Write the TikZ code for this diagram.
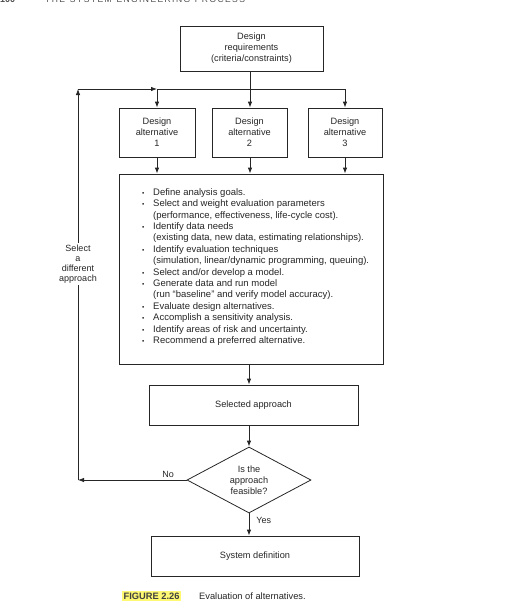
\documentclass[tikz,border=0pt]{standalone}
\usepackage{fontspec}
\setmainfont{Liberation Sans}
\usetikzlibrary{arrows.meta,shapes.geometric}
\newcommand{\mybul}{\makebox[11pt][l]{\fontsize{6.5}{6}\selectfont\textbullet}}
\newcommand{\myind}{\hspace*{11pt}}
\begin{document}
\begin{tikzpicture}[x=1pt,y=1pt,
  line/.style={draw=black!85, line width=0.8pt},
  arr/.style={line, -{Latex[length=6pt,width=4.5pt]}},
  box/.style={draw=black!85, line width=0.8pt, align=center, inner sep=0pt,
    font=\fontsize{9.2}{11}\selectfont, text=black!85},
  lbl/.style={font=\fontsize{9}{10}\selectfont, text=black!85, align=center, inner sep=1pt}]
\useasboundingbox (0,0) rectangle (519,-606);
\clip (0,0) rectangle (519,-606);
% header (cut off at top, as in the reference)
\node[anchor=base west, inner sep=0pt, font=\bfseries\fontsize{9}{9}\selectfont, text=black!70] (pg) at (0,-2) {100};
\node[anchor=base west, inner sep=0pt, font=\fontsize{8.5}{9}\selectfont, text=black!70] (hd) at (45,-2) {T\,H\,E\ \ S\,Y\,S\,T\,E\,M\ \ E\,N\,G\,I\,N\,E\,E\,R\,I\,N\,G\ \ P\,R\,O\,C\,E\,S\,S};
% boxes
\node[box, minimum width=143pt, minimum height=45pt] (top) at (251.5,-48.5) {Design\\requirements\\(criteria/constraints)};
\node[box, minimum width=76pt, minimum height=49pt] (alt1) at (157,-132.5) {Design\\alternative\\1};
\node[box, minimum width=75pt, minimum height=49pt] (alt2) at (249.5,-132.5) {Design\\alternative\\2};
\node[box, minimum width=74pt, minimum height=49pt] (alt3) at (345,-132.5) {Design\\alternative\\3};
\node[box, minimum width=264pt, minimum height=190pt] (main) at (251,-269) {};
\node[anchor=west, inner sep=0pt, align=left, text=black!85,
  font=\fontsize{9.5}{11.4}\selectfont] (maintext) at (142,-267) {%
\mybul Define analysis goals.\\
\mybul Select and weight evaluation parameters\\
\myind (performance, effectiveness, life-cycle cost).\\
\mybul Identify data needs\\
\myind (existing data, new data, estimating relationships).\\
\mybul Identify evaluation techniques\\
\myind (simulation, linear/dynamic programming, queuing).\\
\mybul Select and/or develop a model.\\
\mybul Generate data and run model\\
\myind (run ``baseline'' and verify model accuracy).\\
\mybul Evaluate design alternatives.\\
\mybul Accomplish a sensitivity analysis.\\
\mybul Identify areas of risk and uncertainty.\\
\mybul Recommend a preferred alternative.};
\node[box, minimum width=209pt, minimum height=40pt] (sel) at (253.5,-405) {Selected approach};
\node[box, shape=diamond, aspect=1.88, minimum width=124pt, minimum height=66pt] (dia) at (249,-480) {Is the\\approach\\feasible?};
\node[box, minimum width=208pt, minimum height=40pt] (sys) at (255,-556) {System definition};
% junctions
\coordinate (J1) at (157,-89);
\coordinate (J2) at (250,-89);
\coordinate (J3) at (345,-89);
\coordinate (C1) at (78,-480);
\coordinate (C2) at (78,-89);
% connectors
\draw[line] (J2 |- top.south) -- (J2);
\draw[line] (J1) -- (J3);
\draw[arr] (J1) -- (J1 |- alt1.north);
\draw[arr] (J2) -- (J2 |- alt2.north);
\draw[arr] (J3) -- (J3 |- alt3.north);
\draw[arr] (alt1.south -| J1) -- (J1 |- main.north);
\draw[arr] (alt2.south -| J2) -- (J2 |- main.north);
\draw[arr] (alt3.south -| J3) -- (J3 |- main.north);
\draw[arr] (dia.north |- main.south) -- (dia.north |- sel.north);
\draw[arr] (dia.north |- sel.south) -- (dia.north);
\draw[arr] (dia.south) -- (dia.south |- sys.north) node[pos=0.3, right=6pt, lbl] (yes) {Yes};
\draw[arr] (dia.west) -- (C1) node[pos=0.17, above=1pt, lbl] (no) {No};
\draw[arr] (C1) -- (C2);
\draw[arr] (C2) -- (J1);
\node[lbl, fill=white, inner sep=2pt] (sel-lbl) at (78,-264) {Select\\a\\different\\approach};
% caption
\node[anchor=base west, inner sep=1.5pt, fill=yellow!55, font=\bfseries\fontsize{9.3}{10}\selectfont, text=black!75] (fig) at (122,-599) {FIGURE 2.26};
\node[anchor=base west, inner sep=0pt, font=\fontsize{9.3}{10}\selectfont, text=black!85] (cap) at (199,-599) {Evaluation of alternatives.};
\end{tikzpicture}
\end{document}
